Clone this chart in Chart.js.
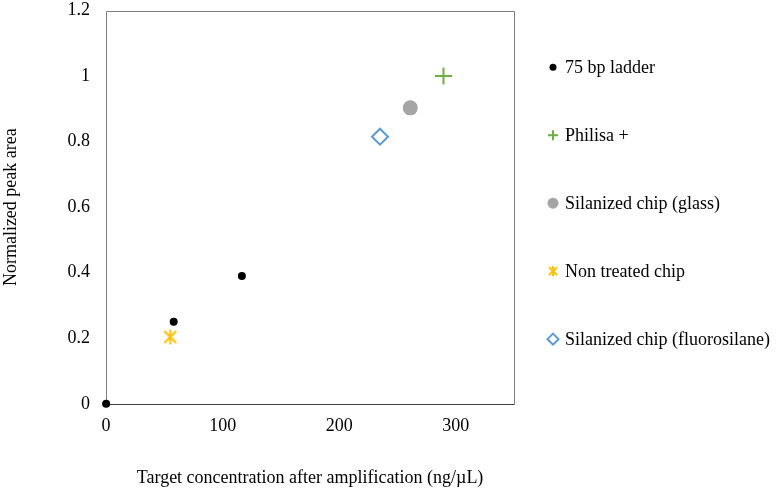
<!DOCTYPE html>
<html><head><meta charset="utf-8">
<script src="https://cdn.jsdelivr.net/npm/chart.js@4/dist/chart.umd.min.js"></script>
<style>html,body{margin:0;padding:0;background:#fff}#wrap{width:777px;height:491px}</style>
</head><body><div id="wrap"><canvas id="c" width="777" height="491"></canvas></div>
<script>
const seriesNames = ["75 bp ladder", "Philisa +", "Silanized chip (glass)", "Non treated chip", "Silanized chip (fluorosilane)"];
const ladderX = [0, 58, 116.5];
const ladderY = [0, 0.25, 0.39];
const philisaX = [289.5];
const philisaY = [1.0];
const glassX = [261];
const glassY = [0.903];
const nonTreatedX = [55];
const nonTreatedY = [0.204];
const fluoroX = [235];
const fluoroY = [0.815];
const xTicks = [0, 100, 200, 300];
const xTitle = "Target concentration after amplification (ng/µL)";
const yTitle = "Normalized peak area";

function pts(xs, ys){ return xs.map((x,i)=>({x:x, y:ys[i]})); }

function starCanvas(size, color, lw){
  const c = document.createElement('canvas');
  c.width = size; c.height = size;
  const g = c.getContext('2d');
  g.strokeStyle = color; g.lineWidth = lw;
  const m = size/2, r = size/2 - 1;
  g.beginPath();
  g.moveTo(m, m - r); g.lineTo(m, m + r);
  const d = r*0.8;
  g.moveTo(m-d, m-d); g.lineTo(m+d, m+d);
  g.moveTo(m+d, m-d); g.lineTo(m-d, m+d);
  g.stroke();
  return c;
}
const starBig = starCanvas(17, '#FFC000', 2);
const starSmall = starCanvas(12, '#FFC000', 2);

const FONT = "'Liberation Serif', 'Times New Roman', serif";
const font = {family: FONT, size: 18};

const legendMarks = [
  {pointStyle:'circle', radius:3.5, fill:'#000', stroke:'#000', bw:0},
  {pointStyle:'cross', radius:5, fill:'#70AD47', stroke:'#70AD47', bw:2},
  {pointStyle:'circle', radius:5.5, fill:'#A5A5A5', stroke:'#A5A5A5', bw:0},
  {pointStyle:starSmall, radius:6, fill:'#FFC000', stroke:'#FFC000', bw:2},
  {pointStyle:'rectRot', radius:5.5, fill:'#fff', stroke:'#5B9BD5', bw:2}
];

const boxPlugin = {
  id: 'box',
  beforeDatasetsDraw(chart){
    const a = chart.chartArea, ctx = chart.ctx;
    const L = Math.round(a.left)+0.5, R = Math.round(a.right)+0.5, T = Math.round(a.top)+0.5, B = Math.round(a.bottom)+0.5;
    ctx.save(); ctx.lineWidth = 1;
    ctx.strokeStyle = '#7f7f7f';
    ctx.beginPath(); ctx.moveTo(L, B); ctx.lineTo(L, T); ctx.lineTo(R, T); ctx.lineTo(R, B); ctx.stroke();
    ctx.strokeStyle = '#404040';
    ctx.beginPath(); ctx.moveTo(L, B); ctx.lineTo(R, B); ctx.stroke();
    ctx.restore();
  },
  afterDraw(chart){
    const a = chart.chartArea, ctx = chart.ctx;
    const mid = (a.top + a.bottom)/2 - 4;
    const gap = 68;
    ctx.save();
    ctx.font = "18px " + FONT;
    ctx.fillStyle = '#000';
    ctx.textBaseline = 'middle';
    seriesNames.forEach((name, i) => {
      const y = mid + (i-2)*gap;
      const m = legendMarks[i];
      ctx.fillStyle = m.fill; ctx.strokeStyle = m.stroke; ctx.lineWidth = m.bw;
      Chart.helpers.drawPoint(ctx, {pointStyle:m.pointStyle, radius:m.radius, borderWidth:m.bw, rotation:0}, a.right + 39, y);
      ctx.fillStyle = '#000';
      ctx.fillText(name, a.right + 51, y + 1);
    });
    ctx.restore();
  }
};

new Chart(document.getElementById('c'), {
  type: 'scatter',
  data: { datasets: [
    {label: seriesNames[0], data: pts(ladderX, ladderY), clip:false, pointStyle:'circle', pointRadius:4, backgroundColor:'#000', borderColor:'#000', borderWidth:0},
    {label: seriesNames[1], data: pts(philisaX, philisaY), clip:false, pointStyle:'cross', pointRadius:8.5, backgroundColor:'#70AD47', borderColor:'#70AD47', borderWidth:2},
    {label: seriesNames[2], data: pts(glassX, glassY), clip:false, pointStyle:'circle', pointRadius:7.5, backgroundColor:'#A5A5A5', borderColor:'#A5A5A5', borderWidth:0},
    {label: seriesNames[3], data: pts(nonTreatedX, nonTreatedY), clip:false, pointStyle: starBig, pointRadius:8, backgroundColor:'#FFC000', borderColor:'#FFC000', borderWidth:2},
    {label: seriesNames[4], data: pts(fluoroX, fluoroY), clip:false, pointStyle:'rectRot', pointRadius:8, backgroundColor:'#fff', borderColor:'#5B9BD5', borderWidth:2}
  ]},
  options: {
    responsive:false, animation:false, devicePixelRatio:1,
    layout:{padding:{left:0, right:263, top:0, bottom:2}},
    plugins:{ tooltip:{enabled:false}, legend:{display:false} },
    scales:{
      x:{type:'linear', min:0, max:350, grid:{display:false, drawTicks:false}, border:{display:false},
        afterBuildTicks(axis){ axis.ticks = xTicks.map(v=>({value:v})); },
        afterFit(s){ s.paddingTop = 0; },
        ticks:{color:'#000', font:font, padding:12, maxRotation:0},
        title:{display:true, text:xTitle, color:'#000', font:font, padding:{top:18, bottom:0}}},
      y:{min:0, max:1.2, grid:{display:true, drawOnChartArea:false, drawTicks:true, tickLength:16, color:'rgba(0,0,0,0)'}, border:{display:false},
        afterFit(s){ s.paddingTop = 7; },
        ticks:{stepSize:0.2, color:'#000', font:{family:FONT, size:18, lineHeight:0.45}, padding:0,
          callback:v=> String(Number(v.toFixed(1)))},
        title:{display:true, text:yTitle, color:'#000', font:font, padding:{top:0, bottom:46}}}
    }
  },
  plugins:[boxPlugin]
});
</script></body></html>
